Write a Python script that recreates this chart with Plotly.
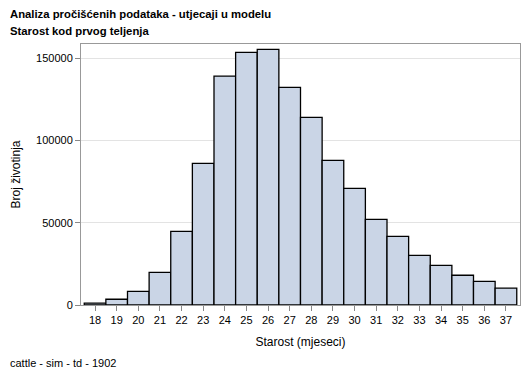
import plotly.graph_objects as go

ages = list(range(18, 38))
counts = [1200, 3500, 8300, 19900, 44800, 86200, 139300, 153700, 155500, 132400,
          114200, 88000, 71000, 52100, 41800, 30200, 24100, 18100, 14400, 10300]
yticks = [0, 50000, 100000, 150000]

font = "Liberation Sans, Arial, sans-serif"
fig = go.Figure(go.Bar(
    x=ages, y=counts, width=1,
    marker=dict(color="#CAD5E6", line=dict(color="black", width=1.3)),
))
fig.update_layout(
    width=529, height=378, plot_bgcolor="white", paper_bgcolor="white",
    margin=dict(l=81, r=9, t=44, b=73), showlegend=False,
    font=dict(family=font, size=11, color="black"),
)
fig.update_xaxes(range=[17.35, 37.65], tickmode="array", tickvals=ages,
                 ticktext=[str(a) for a in ages], ticks="outside", ticklen=5,
                 tickcolor="#888", showline=True, linecolor="#999", mirror=True,
                 showgrid=False, zeroline=False,
                 title=dict(text="Starost (mjeseci)", font=dict(size=12), standoff=12))
fig.update_yaxes(range=[0, 158800], tickmode="array", tickvals=yticks,
                 ticktext=[str(v) for v in yticks], ticks="outside", ticklen=5,
                 tickcolor="#888", showline=True, linecolor="#999", mirror=True,
                 showgrid=True, gridcolor="#E3E3E3", zeroline=False,
                 title=dict(text="Broj životinja", font=dict(size=12), standoff=12))
fig.add_annotation(text="<b>Analiza pročišćenih podataka - utjecaji u modelu</b>",
                   xref="paper", yref="paper", x=-73/439, y=1 + 30/261,
                   xanchor="left", yanchor="middle", showarrow=False, font=dict(size=11.3))
fig.add_annotation(text="<b>Starost kod prvog teljenja</b>",
                   xref="paper", yref="paper", x=-73/439, y=1 + 13/261,
                   xanchor="left", yanchor="middle", showarrow=False, font=dict(size=11.3))
fig.add_annotation(text="cattle - sim - td - 1902",
                   xref="paper", yref="paper", x=-73/439, y=-58/261,
                   xanchor="left", yanchor="middle", showarrow=False, font=dict(size=11))
fig.write_html("out.html", config={"displayModeBar": False},
               post_script="document.body.style.margin='0';")
